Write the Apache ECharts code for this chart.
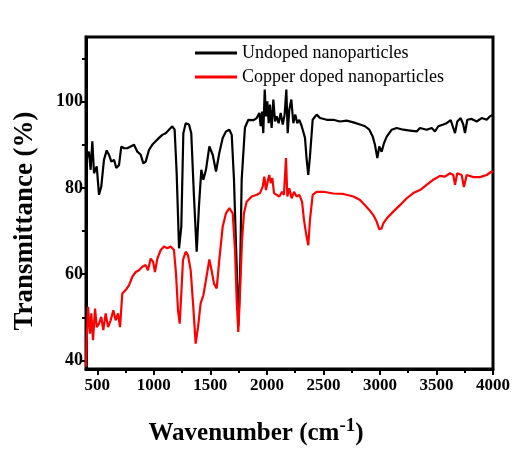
<!DOCTYPE html>
<html>
<head>
<meta charset="utf-8">
<script src="https://cdn.jsdelivr.net/npm/echarts@6/dist/echarts.min.js"></script>
<style>
html,body{margin:0;padding:0;background:#fff;}
#c{width:528px;height:459px;}
</style>
</head>
<body>
<div id="c"></div>
<script>
// Wavenumber (cm-1) and transmittance (%)
const undopedX = [400,411,426,441,456,471,495,515,535,559,583,603,624,648,668,692,712,736,765,795,825,854,884,907,928,957,986,1016,1046,1075,1105,1134,1163,1184,1202,1223,1243,1261,1282,1311,1331,1355,1379,1399,1420,1438,1461,1491,1521,1550,1579,1609,1638,1668,1689,1709,1727,1742,1748,1762,1777,
  1806,1836,1880,1910,1933,1945,1957,1968,1981,1992,2004,2016,2027,2042,2057,2072,2087,2104,2122,2140,2157,2172,2184,2198,2216,2234,2251,2269,2287,2308,2337,2352,2366,2381,2405,2440,
  2470,2529,2588,2647,2706,2765,2824,2868,2906,2936,2956,2977,2994,3015,3036,3060,3104,3148,3207,3266,3325,
  3354,3413,3458,3487,3516,3560,3590,3626,3649,3664,3684,3714,3737,3752,3773,3811,3856,3900,3944,3973,4000];
const undopedY = [86,87.3,88.4,84.2,90.8,83.4,85,78.4,80.3,86.5,88.7,87.7,86.1,86.5,84.6,85.3,89.6,89.2,89.2,89.6,90,88.4,87.7,85.7,86.1,88.8,90,90.8,91.6,92.3,92.7,93.5,94.3,93.5,83.4,66,71,92.7,95,94.7,92.7,78,65.2,75.7,84.2,81.9,84.2,89.6,87.7,83.8,88.1,91.6,93.1,93.5,92.3,81.9,66.4,55,48,58.6,81.9,
  94,95.8,95.7,96.2,97.4,94.3,97.7,92.7,102.8,96.6,100.1,95,99.3,93.9,100.5,95.4,96.6,95,97.4,94.7,97,102.8,92.7,98.1,100.5,95,97,95,95.8,94.3,91.6,86.5,83,87.3,95.8,97,
  96.2,95.8,95.8,95.4,95.6,95.2,94.7,94.3,93.5,91.9,90,86.9,89.6,88.4,90.4,91.9,93.5,93.9,93.5,93.3,93.1,
  93.9,93.5,93.9,93.1,94.3,94.7,95,95.7,93.9,92.7,95.4,96.2,94.7,92.7,95.8,96,95.4,96.2,95.8,96.6,97];
const dopedX = [400,406,418,435,447,462,480,495,515,535,553,574,595,618,642,662,683,701,721,751,780,810,840,869,898,928,948,972,993,1010,1031,1061,1090,1119,1149,1178,1196,1214,1229,1243,1258,1282,1302,1326,1349,1370,1391,1414,1438,1461,1491,1511,1532,1556,1579,1609,1638,1668,1698,1718,1733,1747,1762,1780,1797,
  1821,1866,1910,1939,1963,1977,1992,2010,2021,2034,2048,2063,2087,2110,2134,2151,2169,2181,2198,2219,2240,2263,2287,2311,
  2328,2346,2366,2381,2405,2440,2499,2588,2676,2765,2824,2868,2906,2941,2971,2994,3015,3030,3060,3118,3177,3237,3295,
  3354,3413,3472,3531,3575,3620,3649,3664,3684,3723,3743,3767,3826,3885,3944,3988,4000];
const dopedY = [38.5,45,52.4,46.2,50.9,44.7,52,47.7,48.5,50.1,47,50.9,47.7,49.3,51.6,49.3,50.9,47.7,55.5,56.3,57.4,59.4,60.5,60.9,61.7,62.1,60.9,63.6,62.9,60.5,63.6,65.6,66.4,66,66.4,65.6,60.2,51.6,48.5,55.5,63.3,65.2,64.4,60.9,52.4,43.9,47.7,53.2,55.1,58.6,63.4,60.9,57.8,56.7,63.3,71,74.1,75.3,74.1,65.6,54,46.6,55.5,67.9,74.1,
  76.8,78,78.4,78.8,80.3,82.6,79.5,81.9,83,81.1,82.3,78.8,78.4,78,79.1,78.4,86.9,78,79.9,77.6,79.1,78,78.4,76.8,
  72.6,69.5,66.7,72.6,78.4,79.1,79.1,78.7,78.6,78,77.2,76,74.9,73.7,72.2,70.4,70.6,71.8,72.9,74.5,76,77.6,78.8,
  79.5,80.7,81.9,82.8,82.6,83.4,83,80.7,83.4,83,80.2,83,82.5,82.5,83,83.8,83.6];
const seriesNames = ['Undoped nanoparticles','Copper doped nanoparticles'];
const xMajorTicks = [500,1000,1500,2000,2500,3000,3500,4000];
const xMinorTicks = [750,1250,1750,2250,2750,3250,3750];
const yMajorTicks = [40,60,80,100];
const yMinorTicks = [50,70,90,110];

const zip = (xs, ys) => xs.map((x, i) => [x, ys[i]]);
const serif = '"Liberation Serif","Times New Roman",serif';
const plain = v => String(v);

const chart = echarts.init(document.getElementById('c'), null, {renderer: 'canvas'});
const xBase = {type:'value', min:400, max:4000, splitLine:{show:false}};
const yBase = {type:'value', min:38, max:115, splitLine:{show:false}};
chart.setOption({
  animation: false,
  backgroundColor: '#fff',
  grid: {left:86, right:35, top:37, bottom:90, show:true, borderColor:'#000', borderWidth:3, backgroundColor:'transparent'},
  legend: {
    orient:'vertical', left:195, top:44, padding:0, itemWidth:42, itemHeight:3, itemGap:6, icon:'rect',
    textStyle:{fontFamily:serif, fontSize:18, color:'#000', lineHeight:18},
    data: seriesNames
  },
  xAxis: [
    Object.assign({}, xBase, {
      position:'bottom',
      axisLine:{show:true, lineStyle:{color:'#000', width:3}},
      axisTick:{show:true, inside:false, length:6, lineStyle:{color:'#000', width:2}, customValues:xMajorTicks},
      axisLabel:{show:true, customValues:xMajorTicks, formatter:plain, margin:8, fontFamily:serif, fontWeight:'bold', fontSize:17, color:'#000'}
    }),
    Object.assign({}, xBase, {
      position:'bottom',
      axisLine:{show:false},
      axisTick:{show:true, inside:false, length:4, lineStyle:{color:'#000', width:2}, customValues:xMinorTicks},
      axisLabel:{show:false}
    })
  ],
  yAxis: [
    Object.assign({}, yBase, {
      position:'left',
      axisLine:{show:true, lineStyle:{color:'#000', width:3}},
      axisTick:{show:true, inside:false, length:6, lineStyle:{color:'#000', width:2}, customValues:yMajorTicks},
      axisLabel:{show:true, customValues:yMajorTicks, formatter:plain, margin:3, fontFamily:serif, fontWeight:'bold', fontSize:18, color:'#000'}
    }),
    Object.assign({}, yBase, {
      position:'left',
      axisLine:{show:false},
      axisTick:{show:true, inside:false, length:4, lineStyle:{color:'#000', width:2}, customValues:yMinorTicks},
      axisLabel:{show:false}
    })
  ],
  series: [
    {name:seriesNames[0], type:'line', showSymbol:false, symbol:'none', data:zip(undopedX, undopedY),
     lineStyle:{color:'#000', width:2.2}, itemStyle:{color:'#000'}},
    {name:seriesNames[1], type:'line', showSymbol:false, symbol:'none', data:zip(dopedX, dopedY),
     lineStyle:{color:'#ff0000', width:2.2}, itemStyle:{color:'#ff0000'}}
  ],
  graphic: [
    {type:'text', x:25, y:221, rotation:Math.PI/2,
     style:{text:'Transmittance (%)', fontFamily:serif, fontWeight:'bold', fontSize:27, fill:'#000', align:'center', verticalAlign:'middle'}},
    {type:'text', x:256, y:434,
     style:{text:'Wavenumber (cm{sup|-1})', fontFamily:serif, fontWeight:'bold', fontSize:25, fill:'#000', align:'center', verticalAlign:'middle',
       rich:{sup:{fontFamily:serif, fontWeight:'bold', fontSize:19, fill:'#000', verticalAlign:'bottom', padding:[0,0,15,0]}}}}
  ]
});
</script>
</body>
</html>
